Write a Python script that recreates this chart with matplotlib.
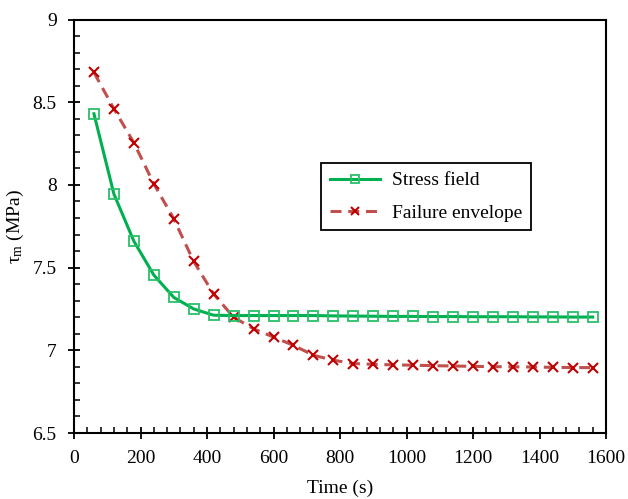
import matplotlib
matplotlib.use("Agg")
import matplotlib.pyplot as plt
from matplotlib.ticker import MultipleLocator

plt.rcParams['font.family'] = ['Liberation Serif', 'DejaVu Serif']
plt.rcParams['mathtext.fontset'] = 'custom'
plt.rcParams['mathtext.rm'] = 'Liberation Serif'
plt.rcParams['mathtext.it'] = 'Liberation Serif:italic'

time_s = [60, 120, 180, 240, 300, 360, 420, 480, 540, 600, 660, 720, 780, 840,
          900, 960, 1020, 1080, 1140, 1200, 1260, 1320, 1380, 1440, 1500, 1560]
stress_field = [8.43, 7.945, 7.66, 7.455, 7.32, 7.25, 7.212, 7.21, 7.21, 7.21, 7.21, 7.21,
                7.208, 7.207, 7.206, 7.205, 7.205, 7.204, 7.204, 7.203, 7.203, 7.203,
                7.202, 7.202, 7.201, 7.201]
failure_envelope = [8.68, 8.46, 8.255, 8.007, 7.795, 7.537, 7.34, 7.20, 7.13, 7.08, 7.03,
                    6.97, 6.94, 6.92, 6.915, 6.912, 6.91, 6.907, 6.905, 6.903, 6.901,
                    6.9, 6.899, 6.897, 6.896, 6.895]

fig = plt.figure(figsize=(6.28, 4.99), dpi=100)
ax = fig.add_axes([74/628, 1 - 433/499, (606-74)/628, (433-19.5)/499])

ax.plot(time_s, stress_field, color='#00B050', lw=2.2, marker='s', ms=7,
        markerfacecolor='none', markeredgecolor='#2BBF6A', markeredgewidth=1.3,
        label='Stress field', zorder=3)
ax.plot(time_s, failure_envelope, color='#C0504D', lw=2.2, ls=(0, (3.6, 2.2)),
        marker='x', ms=7, markeredgecolor='#C00000', markeredgewidth=1.5,
        label='Failure envelope', zorder=2)

ax.set_xlim(0, 1600)
ax.set_ylim(6.5, 9)
ax.xaxis.set_major_locator(MultipleLocator(200))
ax.xaxis.set_minor_locator(MultipleLocator(40))
ax.yaxis.set_major_locator(MultipleLocator(0.5))
ax.yaxis.set_minor_locator(MultipleLocator(0.1))
ax.set_yticks([6.5, 7, 7.5, 8, 8.5, 9])
ax.set_yticklabels(['6.5', '7', '7.5', '8', '8.5', '9'])

ax.tick_params(which='major', direction='inout', length=9, width=1.3, labelsize=14, pad=8)
ax.tick_params(which='minor', direction='in', length=4.5, width=1.1)
ax.tick_params(axis='both', which='both', top=False, right=False)
for sp in ax.spines.values():
    sp.set_linewidth(1.5)

ax.set_xlabel('Time (s)', fontsize=14, labelpad=9)
ax.set_ylabel(r'$\mathrm{\tau_m}$ (MPa)', fontsize=14, labelpad=5)

leg = ax.legend(loc='upper left', bbox_to_anchor=((321-74)/532, 1 - (163-19.5)/413.5),
                borderaxespad=0,
                fontsize=14, frameon=True, fancybox=False, edgecolor='black',
                framealpha=1, borderpad=0.45, handlelength=2.6, labelspacing=0.75,
                handletextpad=0.6, markerscale=0.8)
leg.get_frame().set_linewidth(1.3)

fig.savefig('out.png', dpi=100)
